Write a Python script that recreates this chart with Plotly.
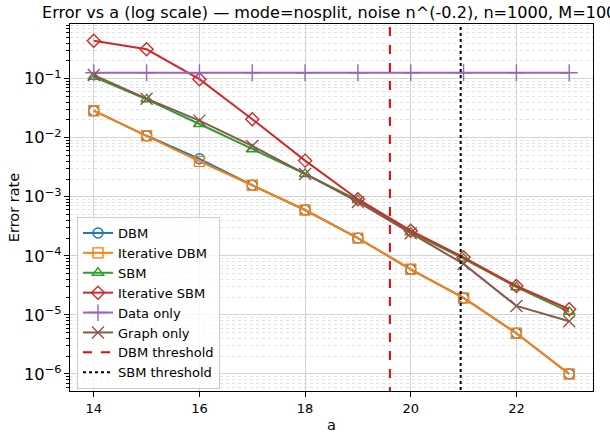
import plotly.graph_objects as go

a_vals = [14, 15, 16, 17, 18, 19, 20, 21, 22, 23]

dbm = [0.0287, 0.0108, 0.0044, 0.00157, 5.98e-4, 2.0e-4, 5.93e-5, 1.94e-5, 4.9e-6, 1.0e-6]
iter_dbm = [0.0287, 0.0108, 0.00398, 0.00157, 5.98e-4, 2.0e-4, 5.93e-5, 1.94e-5, 4.9e-6, 1.0e-6]
sbm = [0.108, 0.0448, 0.0171, 0.00638, 0.00244, 8.8e-4, 2.5e-4, 9.0e-5, 2.95e-5, 1.13e-5]
iter_sbm = [0.44, 0.315, 0.098, 0.0206, 0.0041, 9.1e-4, 2.67e-4, 9.46e-5, 3.09e-5, 1.25e-5]
data_only = [0.126] * 10
graph_only = [0.115, 0.0459, 0.0195, 0.00726, 0.00244, 8.2e-4, 2.42e-4, 7.3e-5, 1.42e-5, 7.8e-6]

dbm_threshold = 19.606
sbm_threshold = 20.945

x_ticks = [14, 16, 18, 20, 22]
x_range = [13.55, 23.45]
y_log_range = [-6.288, -0.074]

FONT = "DejaVu Sans"
W, H = 610, 434
ML, MR, MT, MB = 70, 17, 24, 43

series = [
    ("DBM", dbm, "#1f77b4", "circle-open"),
    ("Iterative DBM", iter_dbm, "#ff7f0e", "square-open"),
    ("SBM", sbm, "#2ca02c", "triangle-up-open"),
    ("Iterative SBM", iter_sbm, "#d62728", "diamond-open"),
    ("Data only", data_only, "#9467bd", "cross-thin-open"),
    ("Graph only", graph_only, "#8c564b", "x-thin-open"),
]

fig = go.Figure()
for name, vals, color, sym in series:
    size = 10
    if sym in ("cross-thin-open", "x-thin-open"):
        size = 12
    fig.add_trace(go.Scatter(
        x=a_vals, y=vals, name=name, mode="lines+markers",
        line=dict(color=color, width=2),
        marker=dict(symbol=sym, size=size, color=color,
                    line=dict(color=color, width=1.4)),
    ))

y_span = [10 ** (y_log_range[0] - 1), 10 ** (y_log_range[1] + 1)]
fig.add_trace(go.Scatter(
    x=[dbm_threshold, dbm_threshold], y=y_span, name="DBM threshold",
    mode="lines", line=dict(color="#ff0000", width=2, dash="dash"),
))
fig.add_trace(go.Scatter(
    x=[sbm_threshold, sbm_threshold], y=y_span, name="SBM threshold",
    mode="lines", line=dict(color="black", width=2, dash="dot"),
))

pw = W - ML - MR
ph = H - MT - MB

fig.update_layout(
    width=W, height=H,
    margin=dict(l=ML, r=MR, t=MT, b=MB, autoexpand=False),
    paper_bgcolor="white", plot_bgcolor="white",
    font=dict(family=FONT, size=13, color="black"),
    title=dict(text="Error vs a (log scale) — mode=nosplit, noise n^(-0.2), n=1000, M=1000",
               x=42 / W, xanchor="left", xref="container", y=1 - 12 / H, yanchor="middle",
               font=dict(size=16.1, family=FONT), automargin=False),
    showlegend=True,
    legend=dict(x=(77 - ML) / pw, y=(H - MB - 389) / ph, xanchor="left", yanchor="bottom",
                bgcolor="rgba(255,255,255,0.8)", bordercolor="#cccccc", borderwidth=1,
                font=dict(size=13, family=FONT), tracegroupgap=0,
                itemwidth=30),
)

fig.update_xaxes(
    range=x_range, tickvals=x_ticks, ticks="outside", ticklen=5, tickcolor="black",
    showline=True, linecolor="black", linewidth=1, mirror=True,
    showgrid=True, gridcolor="#d3d3d3", gridwidth=1, zeroline=False,
    tickfont=dict(size=13), automargin=False,
    title=dict(text="a", standoff=5, font=dict(size=14.5, family=FONT)),
)
fig.update_yaxes(
    type="log", range=y_log_range, dtick=1, exponentformat="power",
    ticks="outside", ticklen=5, tickcolor="black",
    showline=True, linecolor="black", linewidth=1, mirror=True,
    showgrid=True, gridcolor="#d3d3d3", gridwidth=1, zeroline=False,
    tickfont=dict(size=13), automargin=False,
    minor=dict(dtick="D1", ticks="outside", ticklen=3, tickcolor="black",
               showgrid=True, gridcolor="#e2e2e2", griddash="dot", gridwidth=1),
    title=dict(text="Error rate", standoff=0, font=dict(size=14.5, family=FONT)),
)

fig.write_html(
    "out.html",
    config={"displayModeBar": False},
    post_script="document.body.style.margin='0';document.body.style.padding='0';",
)
